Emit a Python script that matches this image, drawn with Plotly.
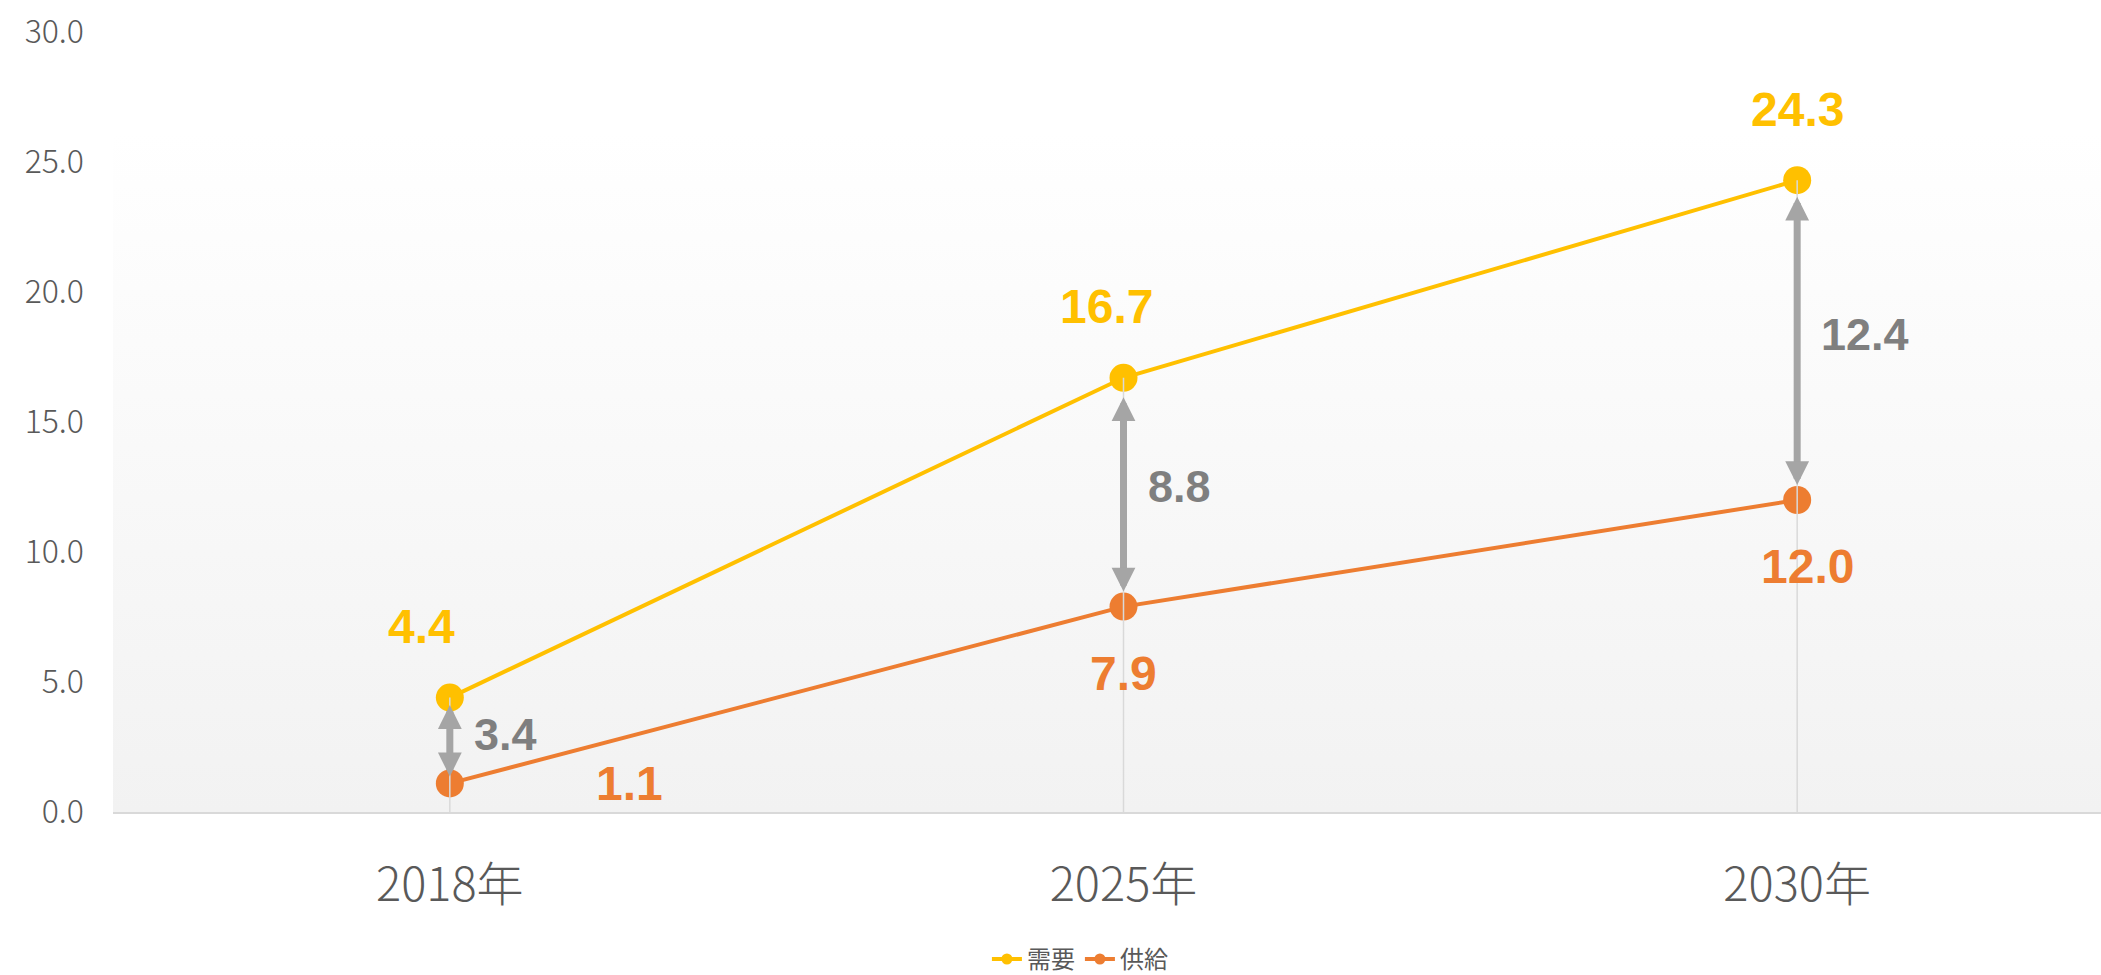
import plotly.graph_objects as go

categories = ["2018年", "2025年", "2030年"]
demand = [4.4, 16.7, 24.3]
supply = [1.1, 7.9, 12.0]
gap = [3.4, 8.8, 12.4]
y_ticks = [0, 5, 10, 15, 20, 25, 30]
series_names = ["需要", "供給"]

YELLOW = "#FFC000"
ORANGE = "#ED7D31"
GRAY_TXT = "#595959"
ARROW = "#A5A5A5"
GAPTXT = "#7F7F7F"

xs = list(range(len(categories)))
X_MIN, X_MAX = -0.5, 2.451
BG_TOP = 26.15

fig = go.Figure()

# plot-area gradient background
fig.add_trace(go.Scatter(
    x=[X_MIN, X_MAX, X_MAX, X_MIN], y=[0, 0, BG_TOP, BG_TOP],
    fill="toself", mode="none", hoverinfo="skip", showlegend=False,
    fillgradient=dict(type="vertical", colorscale=[[0, "#f2f2f2"], [1, "#ffffff"]]),
))

# series lines
fig.add_trace(go.Scatter(x=xs, y=demand, mode="lines+markers", showlegend=False,
                         line=dict(color=YELLOW, width=4), marker=dict(size=28, color=YELLOW)))
fig.add_trace(go.Scatter(x=xs, y=supply, mode="lines+markers", showlegend=False,
                         line=dict(color=ORANGE, width=4), marker=dict(size=28, color=ORANGE)))

# drop lines
dx, dy = [], []
for i, (d, s) in enumerate(zip(demand, supply)):
    dx += [i, i, None]
    dy += [max(d, s), 0, None]
fig.add_trace(go.Scatter(x=dx, y=dy, mode="lines", showlegend=False, hoverinfo="skip",
                         line=dict(color="#D9D9D9", width=1.5)))

# legend entries
fig.add_trace(go.Scatter(x=[None], y=[None], mode="lines+markers", name=series_names[0],
                         line=dict(color=YELLOW, width=4), marker=dict(size=11, color=YELLOW)))
fig.add_trace(go.Scatter(x=[None], y=[None], mode="lines+markers", name=series_names[1],
                         line=dict(color=ORANGE, width=4), marker=dict(size=11, color=ORANGE)))

LABEL_FONT = "Liberation Sans, Arial, sans-serif"
annotations = []
demand_dx = [-28, -17, 0]
supply_off = [(180, 0), (0, -67), (10, -66)]
arrow_top_gap = [6, 18, 15]
arrow_bottom_gap = [7, 15, 15]
for i in xs:
    annotations.append(dict(x=i, y=demand[i], xref="x", yref="y", text=f"{demand[i]:.1f}",
                            showarrow=False, xshift=demand_dx[i], yshift=71,
                            font=dict(family=LABEL_FONT, size=48, color=YELLOW, weight="bold")))
    annotations.append(dict(x=i, y=supply[i], xref="x", yref="y", text=f"{supply[i]:.1f}",
                            showarrow=False, xshift=supply_off[i][0], yshift=supply_off[i][1],
                            font=dict(family=LABEL_FONT, size=48, color=ORANGE, weight="bold")))
    # double-headed gap arrow
    annotations.append(dict(x=i, y=supply[i], xref="x", yref="y",
                            ax=i, ay=demand[i], axref="x", ayref="y",
                            showarrow=True, text="", arrowside="end+start",
                            arrowhead=2, startarrowhead=2, arrowsize=0.68, startarrowsize=0.68,
                            arrowwidth=7, arrowcolor=ARROW,
                            standoff=arrow_bottom_gap[i], startstandoff=arrow_top_gap[i]))
    annotations.append(dict(x=i, y=(demand[i] + supply[i]) / 2, xref="x", yref="y",
                            text=f"{gap[i]:.1f}", showarrow=False, xanchor="left",
                            xshift=22, yshift=6,
                            font=dict(family=LABEL_FONT, size=45, color=GAPTXT, weight="bold")))

fig.update_layout(
    width=2101, height=975,
    margin=dict(l=113, r=0, t=32, b=163, autoexpand=False),
    paper_bgcolor="white", plot_bgcolor="white",
    showlegend=True,
    legend=dict(orientation="h", xref="container", yref="container",
                x=0.514, xanchor="center", y=0.016, yanchor="middle",
                font=dict(family="Noto Sans CJK JP", size=24, color=GRAY_TXT),
                itemwidth=30, tracegroupgap=0, bgcolor="rgba(0,0,0,0)"),
    annotations=annotations,
    font=dict(family="Noto Sans CJK JP", color=GRAY_TXT),
)
fig.update_xaxes(range=[X_MIN, X_MAX], tickvals=xs, ticktext=categories, automargin=False,
                 showgrid=False, zeroline=False, showline=True, linecolor="#D9D9D9", linewidth=2,
                 ticks="", tickfont=dict(family="Noto Sans CJK JP", size=47, color=GRAY_TXT, weight=300),
                 ticklabelstandoff=31)
fig.update_yaxes(range=[0, 30], tickvals=y_ticks, tickformat=".1f", automargin=False,
                 showgrid=False, zeroline=False, showline=False, ticks="",
                 tickfont=dict(family="Noto Sans CJK JP", size=32, color=GRAY_TXT, weight=300),
                 ticklabelstandoff=28)

fig.write_html("out.html", config={"displayModeBar": False},
               post_script="document.body.style.margin='0';document.body.style.overflow='hidden';")
